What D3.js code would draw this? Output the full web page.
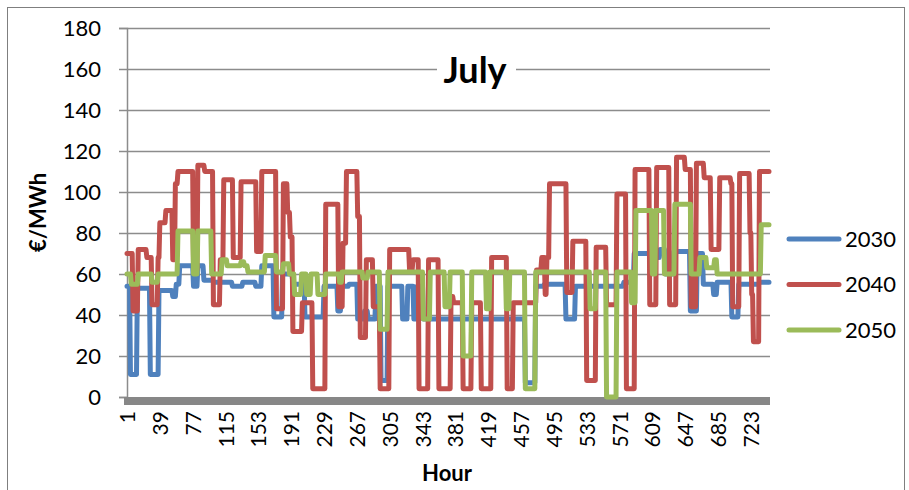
<!DOCTYPE html>
<html>
<head>
<meta charset="utf-8">
<script src="https://cdn.jsdelivr.net/npm/d3@7/dist/d3.min.js"></script>
<style>
  html, body { margin: 0; padding: 0; background: #fff; }
  svg text { font-family: Lato, "Liberation Sans", sans-serif; fill: #000; }
</style>
</head>
<body>
<svg id="chart" width="909" height="490"></svg>
<script>
// Hourly electricity prices for July (744 hours), stored as runs:
// [first hour, price in €/MWh]; each price holds until the next run starts.
const hoursInMonth = 744;
const seriesNames = ["2030", "2040", "2050"];
const seriesColors = ["#4F81BD", "#C0504D", "#9BBB59"];
const yTicks = [0, 20, 40, 60, 80, 100, 120, 140, 160, 180];
const xTickLabels = [1, 39, 77, 115, 153, 191, 229, 267, 305, 343, 381, 419, 457, 495, 533, 571, 609, 647, 685, 723];

const runs2030 = [[1,54],[5,11],[13,53],[28,11],[38,52],[54,49],[58,55],[62,64],[78,54],[83,64],[90,57],[101,56],
  [123,54],[135,56],[150,54],[157,64],[171,39],[181,60],[193,55],[207,39],[229,54],[245,42],[249,54],[258,55],
  [268,38],[276,42],[280,38],[289,54],[295,8],[303,54],[320,38],[326,54],[333,38],[337,54],[344,38],[462,7],
  [474,54],[484,55],[509,38],[520,54],[576,56],[588,70],[610,68],[618,72],[624,60],[634,71],[653,42],[661,70],
  [668,55],[680,50],[684,56],[701,39],[709,55],[733,56]];

const runs2040 = [[1,70],[8,42],[14,72],[24,68],[30,45],[37,68],[39,85],[46,91],[54,67],[57,104],[60,110],[78,62],
  [83,113],[91,110],[101,45],[109,67],[113,106],[124,68],[133,105],[151,71],[157,110],[174,43],[182,104],[187,90],
  [190,78],[193,32],[204,46],[216,4],[231,94],[246,44],[251,75],[255,110],[268,88],[271,29],[278,67],[286,44],
  [294,4],[305,72],[328,62],[332,67],[339,4],[350,67],[362,4],[376,49],[379,46],[390,4],[400,46],[411,4],[423,68],
  [441,4],[448,46],[475,62],[481,68],[485,50],[487,68],[490,104],[510,51],[517,76],[533,8],[544,73],[556,45],
  [568,99],[579,4],[589,111],[606,45],[614,112],[629,45],[637,117],[647,111],[654,44],[660,114],[669,107],[677,72],
  [687,107],[700,104],[702,44],[710,109],[722,80],[724,50],[726,27],[733,110]];

const runs2050 = [[1,60],[6,55],[14,60],[30,56],[37,60],[60,81],[78,60],[83,81],[99,60],[111,67],[117,64],[133,66],
  [137,64],[141,61],[161,69],[174,61],[182,65],[189,60],[195,50],[203,60],[209,50],[214,60],[222,50],[231,60],
  [247,56],[250,61],[274,58],[280,61],[294,33],[303,61],[344,38],[352,61],[369,44],[375,61],[390,20],[400,61],
  [417,43],[421,61],[440,43],[444,61],[462,4],[474,61],[537,43],[544,61],[556,0],[568,61],[585,46],[590,91],
  [609,60],[613,91],[623,60],[635,94],[654,60],[664,68],[672,63],[681,67],[684,60],[735,84]];

// Turn runs into one price per hour.
function toHourly(runs) {
  const out = [];
  let r = 0;
  for (let h = 1; h <= hoursInMonth; h++) {
    while (r + 1 < runs.length && runs[r + 1][0] <= h) r++;
    out.push({ hour: h, price: runs[r][1] });
  }
  return out;
}
const series = [runs2030, runs2040, runs2050].map((runs, i) => ({
  name: seriesNames[i], color: seriesColors[i], values: toHourly(runs)
}));

const svg = d3.select("#chart");
const plot = { left: 127, right: 769, top: 28, bottom: 397 };

const x = d3.scaleLinear().domain([1, hoursInMonth]).range([plot.left, plot.right]);
const y = d3.scaleLinear().domain([0, 180]).range([plot.bottom, plot.top]);

// Outer chart frame
svg.append("rect")
  .attr("x", 7.5).attr("y", 7.5).attr("width", 897).attr("height", 500)
  .attr("fill", "#fff").attr("stroke", "#7f7f7f").attr("stroke-width", 1);

// Horizontal gridlines
svg.append("g")
  .selectAll("line")
  .data(yTicks.filter(d => d > 0))
  .join("line")
  .attr("x1", plot.left).attr("x2", plot.right + 1)
  .attr("y1", d => Math.round(y(d)) + 0.5).attr("y2", d => Math.round(y(d)) + 0.5)
  .attr("stroke", "#8c8c8c").attr("stroke-width", 1.5);

// Y axis
const yAxis = svg.append("g")
  .attr("transform", `translate(${plot.left},0)`)
  .call(d3.axisLeft(y).tickValues(yTicks).tickSize(8).tickPadding(18));
yAxis.select(".domain").attr("stroke", "#8c8c8c").attr("stroke-width", 1.5);
yAxis.selectAll(".tick line").attr("stroke", "#8c8c8c").attr("stroke-width", 1.5);
yAxis.selectAll(".tick text")
  .attr("font-size", 22).attr("font-family", "Lato, sans-serif").attr("fill", "#000");

// X axis: thick base bar with rotated hour labels
svg.append("rect")
  .attr("x", plot.left - 3).attr("y", plot.bottom)
  .attr("width", plot.right - plot.left + 4).attr("height", 8)
  .attr("fill", "#878787");

const xAxis = svg.append("g")
  .attr("transform", `translate(0,${plot.bottom + 14})`)
  .call(d3.axisBottom(x).tickValues(xTickLabels).tickSize(0).tickFormat(d3.format("d")));
xAxis.select(".domain").remove();
xAxis.selectAll(".tick text")
  .attr("font-size", 21).attr("font-family", "Lato, sans-serif").attr("fill", "#000")
  .attr("transform", "rotate(-90)")
  .attr("text-anchor", "end")
  .attr("x", 0).attr("y", 0).attr("dy", "0.36em");

// Price lines
const line = d3.line().x(d => x(d.hour)).y(d => y(d.price));
svg.append("g")
  .selectAll("path")
  .data(series)
  .join("path")
  .attr("d", d => line(d.values))
  .attr("fill", "none")
  .attr("stroke", d => d.color)
  .attr("stroke-width", 5)
  .attr("stroke-linejoin", "round")
  .attr("stroke-linecap", "round");

// Title with white backing over the gridline
svg.append("rect")
  .attr("x", 437).attr("y", 48).attr("width", 79).attr("height", 48)
  .attr("fill", "#fff");
svg.append("text")
  .attr("x", 475).attr("y", 83)
  .attr("text-anchor", "middle")
  .attr("font-size", 36).attr("font-weight", 700)
  .text("July");

// Axis titles
svg.append("text")
  .attr("x", 447).attr("y", 481)
  .attr("text-anchor", "middle")
  .attr("font-size", 22).attr("font-weight", 700)
  .text("Hour");
svg.append("text")
  .attr("transform", `translate(46,${(plot.top + plot.bottom) / 2}) rotate(-90)`)
  .attr("text-anchor", "middle")
  .attr("font-size", 22).attr("font-weight", 700)
  .text("€/MWh");

// Legend
const legend = svg.append("g")
  .selectAll("g")
  .data(series)
  .join("g")
  .attr("transform", (d, i) => `translate(789,${239 + i * 45.5})`);
legend.append("line")
  .attr("x1", 0).attr("x2", 50).attr("y1", 0).attr("y2", 0)
  .attr("stroke", d => d.color).attr("stroke-width", 5)
  .attr("stroke-linecap", "round");
legend.append("text")
  .attr("x", 56).attr("y", 0).attr("dy", "0.36em")
  .attr("font-size", 22)
  .text(d => d.name);
</script>
</body>
</html>
